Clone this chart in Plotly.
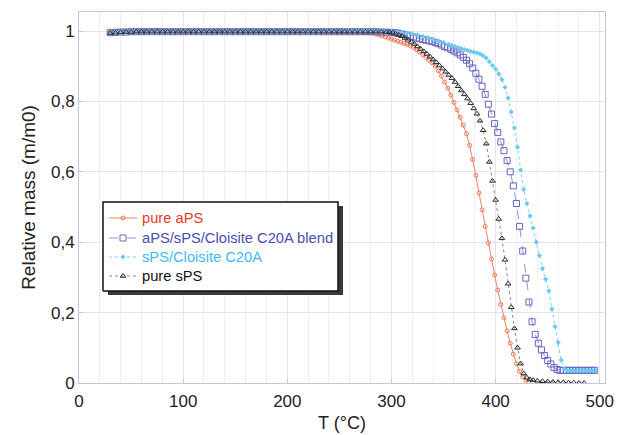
import plotly.graph_objects as go

# ---------------- data ----------------
# pure aPS
t_aps = [30, 35, 40, 45, 50, 55, 60, 65, 70, 75, 80, 85, 90, 95, 100, 105, 110, 115, 120, 125,
         130, 135, 140, 145, 150, 155, 160, 165, 170, 175, 180, 185, 190, 195, 200, 205, 210, 215,
         220, 225, 230, 235, 240, 245, 250, 255, 260, 265, 270, 275, 280, 285, 288, 291, 294, 297,
         300, 303, 306, 309, 312, 315, 318, 321, 324, 327, 330, 333, 336, 339, 342, 345, 348, 351,
         354, 357, 360, 363, 366, 369, 372, 375, 378, 381, 384, 387, 390, 393, 396, 399, 402, 405,
         408, 411, 414, 417, 420, 423, 426, 429, 432]
m_aps = [1.000, 1.000, 1.000, 1.000, 1.000, 1.000, 1.000, 1.000, 1.000, 1.000, 1.000, 1.000, 1.000,
         1.000, 1.000, 1.000, 1.000, 1.000, 1.000, 1.000, 1.000, 1.000, 1.000, 1.000, 1.000, 1.000,
         1.000, 1.000, 1.000, 1.000, 1.000, 1.000, 1.000, 1.000, 1.000, 1.000, 1.000, 1.000, 1.000,
         1.000, 1.000, 0.999, 0.999, 0.999, 0.998, 0.998, 0.997, 0.997, 0.996, 0.995, 0.994, 0.991,
         0.989, 0.986, 0.983, 0.980, 0.977, 0.974, 0.971, 0.968, 0.965, 0.962, 0.958, 0.953, 0.947,
         0.940, 0.933, 0.925, 0.917, 0.910, 0.900, 0.887, 0.872, 0.855, 0.838, 0.818, 0.797, 0.776,
         0.755, 0.733, 0.708, 0.675, 0.635, 0.590, 0.540, 0.492, 0.445, 0.398, 0.352, 0.307, 0.264,
         0.223, 0.185, 0.148, 0.113, 0.082, 0.055, 0.033, 0.017, 0.008, 0.003]

# aPS/sPS/Cloisite C20A blend
t_blend = [30, 35, 40, 45, 50, 55, 60, 65, 70, 75, 80, 85, 90, 95, 100, 105, 110, 115, 120, 125,
           130, 135, 140, 145, 150, 155, 160, 165, 170, 175, 180, 185, 190, 195, 200, 205, 210, 215,
           220, 225, 230, 235, 240, 245, 250, 255, 260, 265, 270, 275, 280, 285, 290, 295, 300, 303,
           306, 309, 312, 315, 318, 321, 324, 327, 330, 333, 336, 339, 342, 345, 348, 351, 354, 357,
           360, 363, 366, 369, 372, 375, 378, 381, 384, 387, 390, 393, 396, 399, 402, 405, 408, 411,
           414, 417, 420, 423, 426, 429, 432, 435, 438, 441, 444, 447, 450, 453, 456, 459, 462, 465,
           468, 471, 474, 477, 480, 483, 486, 489, 492, 495]
m_blend = [0.995, 0.996, 0.997, 0.997, 0.998, 0.998, 0.998, 0.998, 0.998, 0.998, 0.998, 0.998,
           0.998, 0.998, 0.998, 0.998, 0.998, 0.998, 0.998, 0.998, 0.998, 0.998, 0.998, 0.998,
           0.998, 0.998, 0.998, 0.998, 0.998, 0.998, 0.998, 0.998, 0.998, 0.998, 0.998, 0.998,
           0.998, 0.998, 0.998, 0.998, 0.998, 0.998, 0.998, 0.998, 0.998, 0.998, 0.998, 0.998,
           0.998, 0.998, 0.998, 0.998, 0.997, 0.997, 0.996, 0.995, 0.994, 0.992, 0.990, 0.988,
           0.985, 0.983, 0.980, 0.978, 0.976, 0.974, 0.972, 0.970, 0.967, 0.964, 0.960, 0.956,
           0.952, 0.948, 0.943, 0.938, 0.932, 0.925, 0.917, 0.907, 0.895, 0.880, 0.863, 0.843,
           0.820, 0.792, 0.764, 0.737, 0.712, 0.685, 0.660, 0.632, 0.600, 0.560, 0.510, 0.445,
           0.375, 0.298, 0.230, 0.174, 0.138, 0.113, 0.094, 0.078, 0.064, 0.054, 0.044, 0.038,
           0.036, 0.036, 0.036, 0.036, 0.036, 0.036, 0.036, 0.036, 0.036, 0.036, 0.036, 0.036]

# sPS/Cloisite C20A
t_sc = [30, 35, 40, 45, 50, 55, 60, 65, 70, 75, 80, 85, 90, 95, 100, 105, 110, 115, 120, 125,
        130, 135, 140, 145, 150, 155, 160, 165, 170, 175, 180, 185, 190, 195, 200, 205, 210, 215,
        220, 225, 230, 235, 240, 245, 250, 255, 260, 265, 270, 275, 280, 285, 290, 295, 300, 305,
        310, 315, 320, 325, 330, 335, 340, 345, 350, 355, 358, 361, 364, 367, 370, 373, 376, 379,
        382, 385, 388, 391, 394, 397, 400, 403, 406, 409, 412, 415, 418, 421, 424, 427, 430, 433,
        436, 439, 442, 445, 448, 451, 454, 457, 460, 463, 466, 469, 472, 475, 478, 481, 484, 487,
        490, 493, 496]
m_sc = [0.996, 0.997, 0.998, 0.998, 0.999, 0.999, 0.999, 0.999, 0.999, 0.999, 0.999, 0.999,
        0.999, 0.999, 0.999, 0.999, 0.999, 0.999, 0.999, 0.999, 0.999, 0.999, 0.999, 0.999,
        0.999, 0.999, 0.999, 0.999, 0.999, 0.999, 0.999, 0.999, 0.999, 0.999, 0.999, 0.999,
        0.999, 0.999, 0.999, 0.999, 0.999, 0.999, 0.999, 0.999, 0.999, 0.999, 0.999, 0.999,
        0.999, 0.999, 0.999, 0.999, 0.999, 0.999, 0.998, 0.997, 0.996, 0.995, 0.992, 0.989,
        0.985, 0.981, 0.977, 0.972, 0.967, 0.962, 0.959, 0.956, 0.953, 0.950, 0.947, 0.945,
        0.942, 0.940, 0.938, 0.935, 0.930, 0.923, 0.913, 0.902, 0.892, 0.878, 0.862, 0.840,
        0.810, 0.770, 0.725, 0.670, 0.605, 0.550, 0.510, 0.475, 0.440, 0.400, 0.362, 0.325,
        0.295, 0.262, 0.210, 0.160, 0.115, 0.065, 0.040, 0.035, 0.035, 0.035, 0.035, 0.035,
        0.035, 0.035, 0.035, 0.035, 0.035]

# pure sPS
t_sps = [30, 35, 40, 45, 50, 55, 60, 65, 70, 75, 80, 85, 90, 95, 100, 105, 110, 115, 120, 125,
         130, 135, 140, 145, 150, 155, 160, 165, 170, 175, 180, 185, 190, 195, 200, 205, 210, 215,
         220, 225, 230, 235, 240, 245, 250, 255, 260, 265, 270, 275, 280, 285, 290, 295, 298, 301,
         304, 307, 310, 313, 316, 319, 322, 325, 328, 331, 334, 337, 340, 343, 346, 349, 352, 355,
         358, 361, 364, 367, 370, 373, 376, 379, 382, 385, 388, 391, 394, 397, 400, 403, 406, 409,
         412, 415, 418, 421, 424, 427, 430, 433, 436, 440, 445, 450, 455, 460, 465, 470, 475, 480,
         485]
m_sps = [0.994, 0.995, 0.996, 0.997, 0.997, 0.998, 0.998, 0.998, 0.998, 0.998, 0.998, 0.998,
         0.998, 0.998, 0.998, 0.998, 0.998, 0.998, 0.998, 0.998, 0.998, 0.998, 0.998, 0.998,
         0.998, 0.998, 0.998, 0.998, 0.998, 0.998, 0.998, 0.998, 0.998, 0.998, 0.998, 0.998,
         0.998, 0.998, 0.998, 0.998, 0.998, 0.998, 0.998, 0.998, 0.998, 0.998, 0.998, 0.998,
         0.998, 0.998, 0.998, 0.998, 0.998, 0.997, 0.996, 0.995, 0.992, 0.989, 0.985, 0.980,
         0.975, 0.969, 0.963, 0.956, 0.949, 0.942, 0.935, 0.927, 0.919, 0.911, 0.902, 0.893,
         0.884, 0.875, 0.866, 0.855, 0.843, 0.831, 0.820, 0.808, 0.795, 0.780, 0.765, 0.745,
         0.718, 0.680, 0.628, 0.574, 0.520, 0.466, 0.411, 0.350, 0.282, 0.215, 0.155, 0.100,
         0.055, 0.027, 0.015, 0.010, 0.008, 0.006, 0.005, 0.004, 0.003, 0.002, 0.002, 0.001,
         0.001, 0.000, 0.000]

series_names = ["pure aPS", "aPS/sPS/Cloisite C20A blend", "sPS/Cloisite C20A", "pure sPS"]
x_ticks = [0, 100, 200, 300, 400, 500]
y_ticks = [0, 0.2, 0.4, 0.6, 0.8, 1.0]
y_tick_labels = ["0", "0,2", "0,4", "0,6", "0,8", "1"]

# ---------------- styles ----------------
text_colors = ["#e8392a", "#4a4cb0", "#3cbcf0", "#111111"]
line_styles = [
    dict(color="#f08262", width=1),
    dict(color="#9092d8", width=1, dash="dash"),
    dict(color="#7cd0f2", width=1, dash="dot"),
    dict(color="#888888", width=1, dash="dot"),
]
marker_styles = [
    dict(symbol="circle-open", size=4, color="#f07a5c", line=dict(width=1)),
    dict(symbol="square-open", size=6, color="#6466c0", line=dict(width=1)),
    dict(symbol="diamond", size=4, color="#6ccaf2"),
    dict(symbol="triangle-up-open", size=5, color="#2a2a2a", line=dict(width=1)),
]
series = [(t_aps, m_aps), (t_blend, m_blend), (t_sc, m_sc), (t_sps, m_sps)]

fig = go.Figure()
for (tx, my), nm, ls, ms in zip(series, series_names, line_styles, marker_styles):
    fig.add_trace(go.Scatter(x=tx, y=my, mode="lines+markers", name=nm,
                             line=ls, marker=ms, showlegend=False))

# ---------- hand-built legend on an overlay axis (0..1 = plot area) ----------
W_PLOT, H_PLOT, L0, B0 = 526.0, 371.0, 79.0, 383.0
def px(xp):
    return (xp - L0) / W_PLOT
def py(yp):
    return (B0 - yp) / H_PLOT

bx0, bx1, by0, by1 = px(103), px(338), py(291), py(202)
sx0, sx1 = px(104 + 4), px(339 + 4)
sy0, sy1 = py(291 + 4), py(202 + 4)
fig.add_trace(go.Scatter(x=[sx0, sx1, sx1, sx0, sx0], y=[sy0, sy0, sy1, sy1, sy0],
                         xaxis="x2", yaxis="y2", mode="lines", fill="toself",
                         fillcolor="#3a3a3a", line=dict(width=0, color="#3a3a3a"),
                         showlegend=False, hoverinfo="skip"))
fig.add_trace(go.Scatter(x=[bx0, bx1, bx1, bx0, bx0], y=[by0, by0, by1, by1, by0],
                         xaxis="x2", yaxis="y2", mode="lines", fill="toself",
                         fillcolor="white", line=dict(width=1.5, color="#111111"),
                         showlegend=False, hoverinfo="skip"))
row_y = [218, 238, 257, 276]
for ry, ls, ms, nm, tc in zip(row_y, line_styles, marker_styles, series_names, text_colors):
    fig.add_trace(go.Scatter(x=[px(109), px(137)], y=[py(ry)] * 2,
                             xaxis="x2", yaxis="y2", mode="lines", line=ls,
                             showlegend=False, hoverinfo="skip"))
    fig.add_trace(go.Scatter(x=[px(123)], y=[py(ry)], xaxis="x2", yaxis="y2",
                             mode="markers", marker=ms, showlegend=False, hoverinfo="skip"))
    fig.add_annotation(x=px(140), y=py(ry), xref="x2", yref="y2", text=nm,
                       showarrow=False, xanchor="left", yanchor="middle",
                       font=dict(size=14.7, color=tc))

axis_line = "#c4c4e0"
fig.update_layout(
    width=618, height=435,
    margin=dict(l=79, r=13, t=12, b=52),
    paper_bgcolor="white", plot_bgcolor="white",
    font=dict(family="Liberation Sans, Arial, sans-serif", size=17, color="#222222"),
    showlegend=False,
    xaxis=dict(
        range=[0, 505], tickvals=x_ticks, ticktext=[str(v) for v in x_ticks],
        showgrid=True, gridcolor="#e4e4ec", gridwidth=1,
        minor=dict(dtick=20, showgrid=True, gridcolor="#f0f0f4", gridwidth=1),
        showline=True, linecolor=axis_line, linewidth=1, mirror=True,
        ticks="inside", ticklen=4, tickcolor=axis_line,
        zeroline=False, ticklabelstandoff=3, automargin=False,
        title=dict(text="T (°C)", font=dict(size=18), standoff=5),
        tickfont=dict(size=17),
    ),
    yaxis=dict(
        range=[0, 1.054], tickvals=y_ticks, ticktext=y_tick_labels,
        showgrid=True, gridcolor="#e4e4ec", gridwidth=1,
        showline=True, linecolor=axis_line, linewidth=1, mirror=True,
        ticks="inside", ticklen=4, tickcolor=axis_line,
        zeroline=False, automargin=False,
        title=dict(text="Relative mass (m/m0)", font=dict(size=19), standoff=10),
        tickfont=dict(size=17),
    ),
    xaxis2=dict(overlaying="x", range=[0, 1], visible=False, fixedrange=True),
    yaxis2=dict(overlaying="y", range=[0, 1], visible=False, fixedrange=True),
)

fig.write_html("out.html", config={"displayModeBar": False},
               post_script="document.body.style.margin='0';")
